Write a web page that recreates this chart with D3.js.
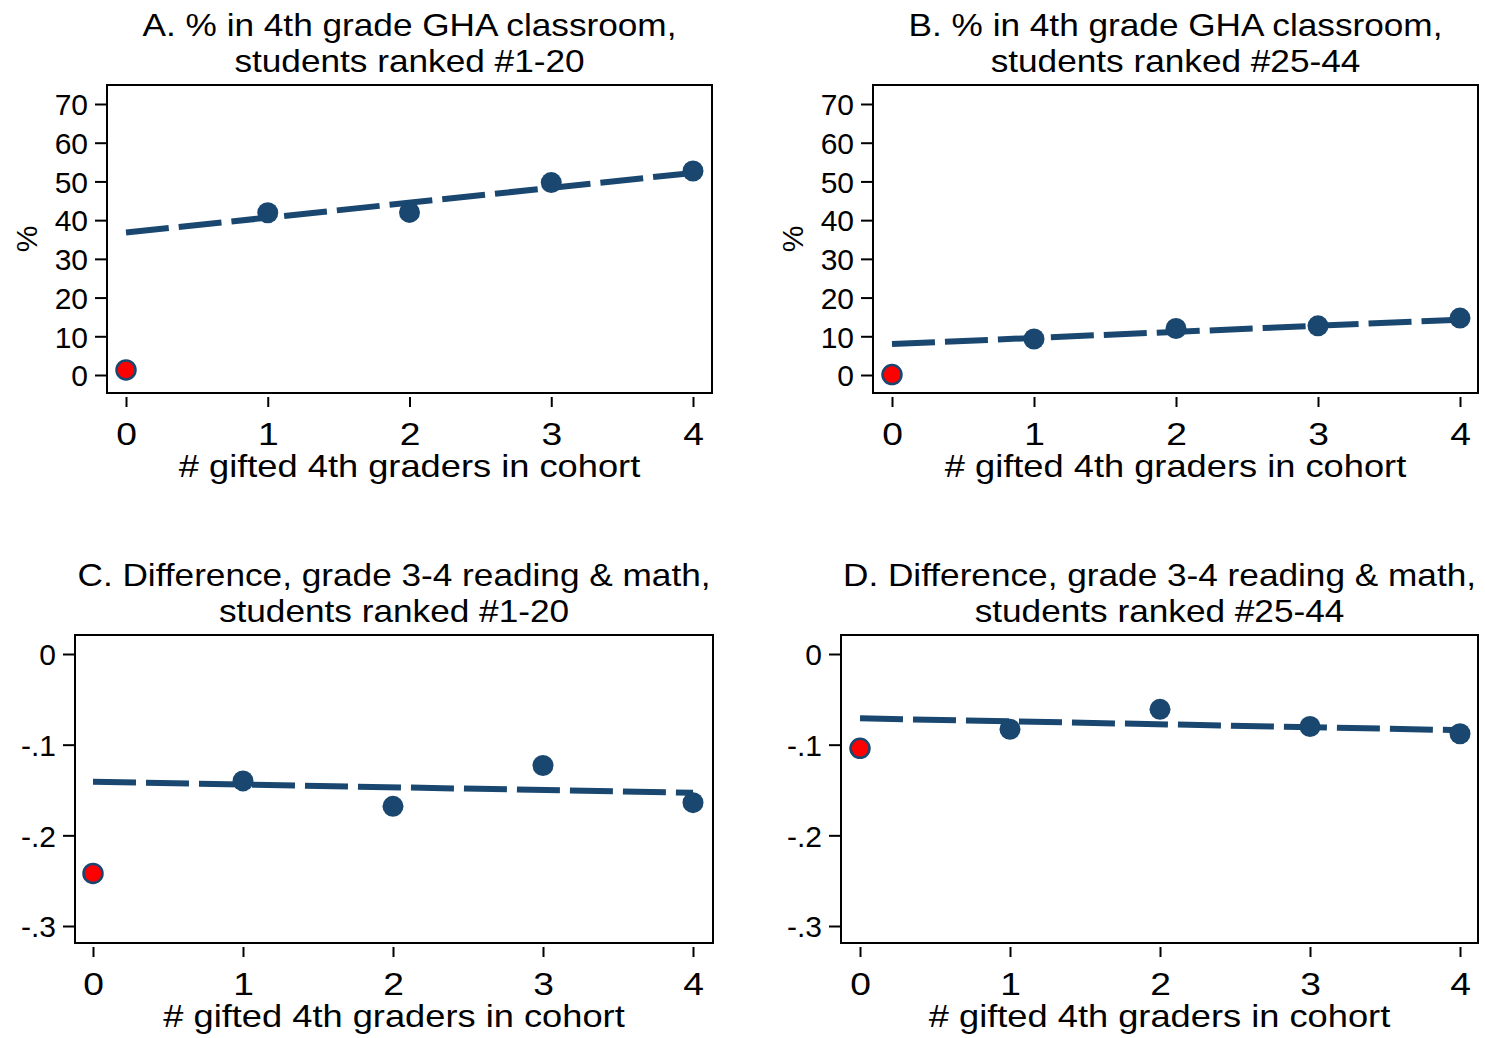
<!DOCTYPE html>
<html>
<head>
<meta charset="utf-8">
<script src="https://cdn.jsdelivr.net/npm/d3@7"></script>
<style>
  html, body { margin: 0; padding: 0; background: #fff; }
  svg { display: block; }
  text { font-family: "Liberation Sans", Arial, sans-serif; fill: #000; }
</style>
</head>
<body>
<svg id="chart" width="1485" height="1038"></svg>
<script>
// ---------- data ----------
const xCategories = [0, 1, 2, 3, 4];
const xTickLabels = ["0", "1", "2", "3", "4"];

const pctTicks = [0, 10, 20, 30, 40, 50, 60, 70];
const pctTickLabels = ["0", "10", "20", "30", "40", "50", "60", "70"];
const diffTicks = [0, -0.1, -0.2, -0.3];
const diffTickLabels = ["0", "-.1", "-.2", "-.3"];

const panelAValues = [1.3, 41.9, 42.0, 49.7, 52.7];
const panelAFit = [36.8, 52.2];          // fitted line at x = 0 and x = 4
const panelBValues = [0.1, 9.3, 12.0, 12.7, 14.7];
const panelBFit = [8.0, 14.3];
const panelCValues = [-0.242, -0.140, -0.168, -0.123, -0.164];
const panelCFit = [-0.141, -0.153];
const panelDValues = [-0.104, -0.083, -0.061, -0.080, -0.088];
const panelDFit = [-0.071, -0.084];
const fitX = [0, 4];

const titlesA = ["A. % in 4th grade GHA classroom,", "students ranked #1-20"];
const titlesB = ["B. % in 4th grade GHA classroom,", "students ranked #25-44"];
const titlesC = ["C. Difference, grade 3-4 reading & math,", "students ranked #1-20"];
const titlesD = ["D. Difference, grade 3-4 reading & math,", "students ranked #25-44"];
const xAxisTitle = "# gifted 4th graders in cohort";
const yAxisTitlePct = "%";

// ---------- layout ----------
const NAVY = "#1a476f";
const RED = "#ff0000";
const FS_TITLE = 32;
const SX_TITLE = 1.1;
const FS_XTITLE = 31;
const SX_XTITLE = 1.17;
const FS_XTICK = 31;
const SX_XTICK = 1.2;
const FS_YTICK = 30;

const panels = [
  { title: titlesA, values: panelAValues, fit: panelAFit, ticks: pctTicks, tickLabels: pctTickLabels,
    yTitle: yAxisTitlePct, frame: {x0: 107, x1: 712, y0: 85, y1: 393}, xr: [126, 693],
    yDomain: [0, 70], yRange: [375, 104] },
  { title: titlesB, values: panelBValues, fit: panelBFit, ticks: pctTicks, tickLabels: pctTickLabels,
    yTitle: yAxisTitlePct, frame: {x0: 873, x1: 1478, y0: 85, y1: 393}, xr: [892, 1460],
    yDomain: [0, 70], yRange: [375, 104] },
  { title: titlesC, values: panelCValues, fit: panelCFit, ticks: diffTicks, tickLabels: diffTickLabels,
    yTitle: null, frame: {x0: 75, x1: 713, y0: 635, y1: 943}, xr: [93, 693],
    yDomain: [-0.3, 0], yRange: [926, 654] },
  { title: titlesD, values: panelDValues, fit: panelDFit, ticks: diffTicks, tickLabels: diffTickLabels,
    yTitle: null, frame: {x0: 841, x1: 1478, y0: 635, y1: 943}, xr: [860, 1460],
    yDomain: [-0.3, 0], yRange: [926, 654] }
];

const svg = d3.select("#chart");
svg.append("rect").attr("width", 1485).attr("height", 1038).attr("fill", "#fff");

function addText(g, x, y, str, size, sx) {
  return g.append("text")
    .attr("transform", `translate(${x},${y}) scale(${sx || 1},1)`)
    .attr("text-anchor", "middle")
    .attr("font-size", size)
    .text(str);
}

panels.forEach(p => {
  const g = svg.append("g");
  const f = p.frame;
  const x = d3.scaleLinear().domain([0, 4]).range(p.xr);
  const y = d3.scaleLinear().domain(p.yDomain).range(p.yRange);
  const cx = (f.x0 + f.x1) / 2;

  // titles
  addText(g, cx, f.y0 - 49, p.title[0], FS_TITLE, SX_TITLE);
  addText(g, cx, f.y0 - 13, p.title[1], FS_TITLE, SX_TITLE);

  // frame
  g.append("rect")
    .attr("x", f.x0).attr("y", f.y0)
    .attr("width", f.x1 - f.x0).attr("height", f.y1 - f.y0)
    .attr("fill", "none").attr("stroke", "#000").attr("stroke-width", 2);

  // y axis
  const yAxis = d3.axisLeft(y).tickValues(p.ticks)
    .tickFormat((d, i) => p.tickLabels[i]).tickSize(12).tickPadding(7);
  const ya = g.append("g").attr("transform", `translate(${f.x0},0)`).call(yAxis);
  ya.select(".domain").remove();
  ya.selectAll(".tick line").attr("stroke", "#000").attr("stroke-width", 2);
  ya.selectAll(".tick text")
    .attr("font-size", FS_YTICK).attr("font-family", "Liberation Sans, Arial, sans-serif")
    .attr("fill", "#000")
    .attr("x", -19).attr("dy", "0.36em");

  // x axis
  const xAxis = d3.axisBottom(x).tickValues(xCategories)
    .tickFormat((d, i) => xTickLabels[i]).tickSize(10).tickPadding(0);
  const xa = g.append("g").attr("transform", `translate(0,${f.y1 + 4})`).call(xAxis);
  xa.select(".domain").remove();
  xa.selectAll(".tick line").attr("stroke", "#000").attr("stroke-width", 2);
  xa.selectAll(".tick text")
    .attr("font-size", FS_XTICK).attr("font-family", "Liberation Sans, Arial, sans-serif")
    .attr("fill", "#000")
    .attr("y", null).attr("dy", null)
    .attr("transform", `translate(0,48) scale(${SX_XTICK},1)`);

  // x axis title
  addText(g, cx, f.y1 + 84, xAxisTitle, FS_XTITLE, SX_XTITLE);

  // y axis title
  if (p.yTitle) {
    g.append("text")
      .attr("transform", `translate(${f.x0 - 70},${(f.y0 + f.y1) / 2}) rotate(-90)`)
      .attr("text-anchor", "middle")
      .attr("font-size", FS_YTICK)
      .text(p.yTitle);
  }

  // fitted dashed line
  const fitData = fitX.map((xv, i) => ({x: xv, y: p.fit[i]}));
  g.append("path")
    .datum(fitData)
    .attr("d", d3.line().x(d => x(d.x)).y(d => y(d.y)))
    .attr("fill", "none").attr("stroke", NAVY).attr("stroke-width", 6)
    .attr("stroke-dasharray", "43,10");

  // points
  const pts = xCategories.map((xv, i) => ({x: xv, y: p.values[i], i}));
  g.selectAll("circle.pt").data(pts).enter().append("circle")
    .attr("class", "pt")
    .attr("cx", d => x(d.x)).attr("cy", d => y(d.y))
    .attr("r", d => d.i === 0 ? 9.5 : 10.5)
    .attr("fill", d => d.i === 0 ? RED : NAVY)
    .attr("stroke", NAVY).attr("stroke-width", d => d.i === 0 ? 2.5 : 0);
});
</script>
</body>
</html>
